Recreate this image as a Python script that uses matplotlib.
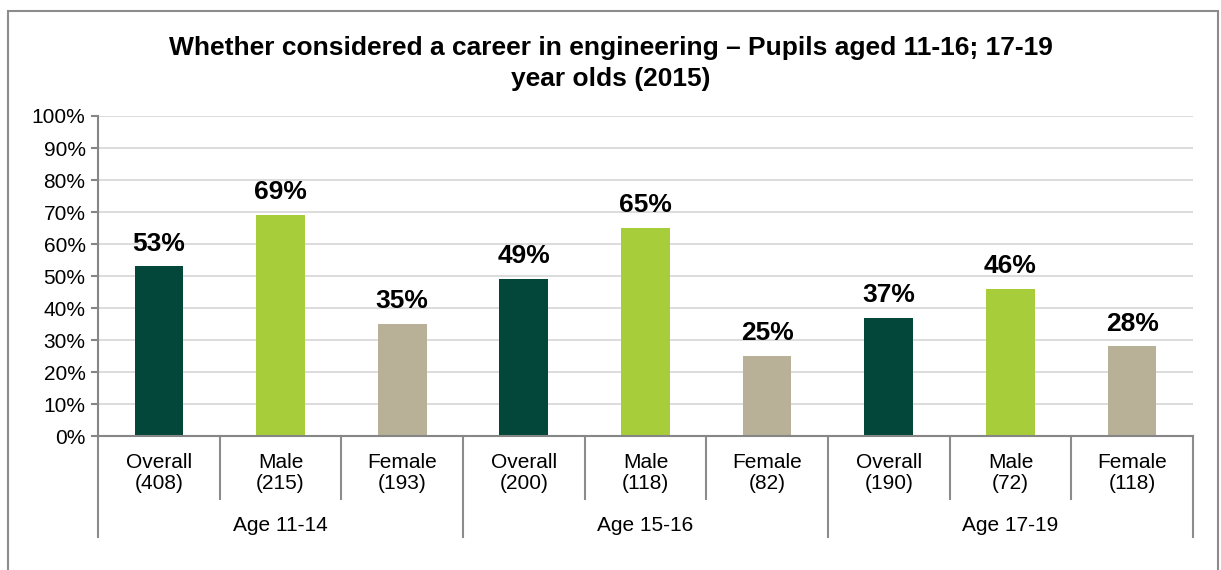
import matplotlib.pyplot as plt
import matplotlib.patches as patches
import matplotlib.transforms as transforms

plt.rcParams['font.family'] = ['Liberation Sans', 'DejaVu Sans']

# Data
groups = ['Age 11-14', 'Age 15-16', 'Age 17-19']
subcats = ['Overall', 'Male', 'Female']
sample_sizes = [408, 215, 193, 200, 118, 82, 190, 72, 118]
values = [53, 69, 35, 49, 65, 25, 37, 46, 28]
colors = ['#03473a', '#a8cd3a', '#b8b097']

fig = plt.figure(figsize=(12.21, 5.7), dpi=100)
ax = fig.add_axes([0.0803, 0.235, 0.8967, 0.5615])

x = list(range(len(values)))
bar_colors = [colors[i % 3] for i in x]
ax.bar(x, values, width=0.4, color=bar_colors, zorder=2)

for xi, v in zip(x, values):
    ax.annotate(f'{v}%', (xi, v), xytext=(0, 16.5), textcoords='offset points',
                ha='center', va='center', fontsize=19, fontweight='bold')

ax.set_xlim(-0.5, len(values) - 0.5)
ax.set_ylim(0, 100)
ax.set_yticks(range(0, 101, 10))
ax.set_yticklabels([f'{t}%' for t in range(0, 101, 10)], fontsize=15)
ax.yaxis.grid(True, color='#d9d9d9', linewidth=1.3, zorder=0)
ax.set_axisbelow(True)
ax.set_xticks([])
for s in ['top', 'right']:
    ax.spines[s].set_visible(False)
for s in ['left', 'bottom']:
    ax.spines[s].set_color('#868686')
    ax.spines[s].set_linewidth(1.5)
ax.tick_params(axis='y', length=5, width=1.5, color='#868686', pad=4)

# multi-level category axis
trans = transforms.blended_transform_factory(ax.transData, ax.transAxes)
for i, n in enumerate(sample_sizes):
    ax.text(i, -0.116, f'{subcats[i % 3]}\n({n})', transform=trans, ha='center',
            va='center', fontsize=15, linespacing=1.15)
for k in range(len(values) + 1):
    low = -0.316 if k % 3 == 0 else -0.197
    ax.plot([k - 0.5, k - 0.5], [0, low], transform=trans, color='#8c8c8c',
            linewidth=1.5, clip_on=False)
for g, name in enumerate(groups):
    ax.text(3 * g + 1, -0.278, name, transform=trans, ha='center', va='center',
            fontsize=15)

fig.text(0.5, 0.889, 'Whether considered a career in engineering \u2013 Pupils aged 11-16; 17-19\nyear olds (2015)',
         ha='center', va='center', fontsize=19, fontweight='bold', linespacing=1.38)

# outer chart border
fig.patches.append(patches.Rectangle((8 / 1221, -0.05), 1210 / 1221, 1.05 - 11 / 570,
                                     transform=fig.transFigure, fill=False,
                                     edgecolor='#8c8c8c', linewidth=1.5))

fig.savefig('out.png', dpi=100)
